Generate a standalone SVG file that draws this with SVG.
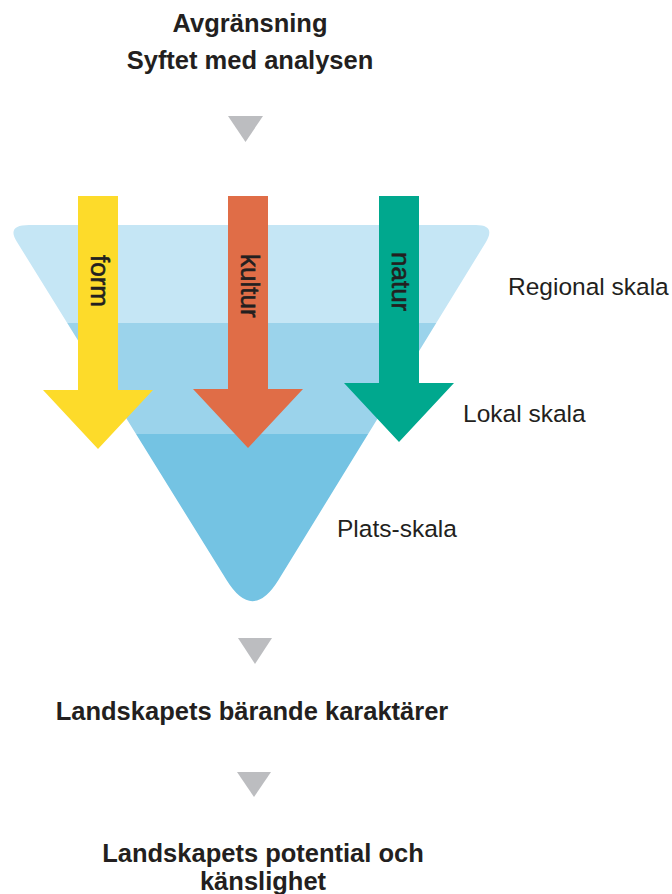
<svg xmlns="http://www.w3.org/2000/svg" width="672" height="894" viewBox="0 0 672 894">
<style>
.title{font-family:"Liberation Sans",Arial,sans-serif;font-weight:bold;font-size:25.5px;fill:#231f20;text-anchor:middle}
.scale{font-family:"Liberation Sans",Arial,sans-serif;font-size:24.5px;fill:#231f20}
.arrowtxt{font-family:"Liberation Sans",Arial,sans-serif;font-size:26px;fill:#231f20;stroke:#231f20;stroke-width:0.6px}
.step{fill:#bcbdc0}
</style>
<defs>
<clipPath id="funnelClip">
<path d="M29,225 L476,225 Q496,225 486,242 L278.3,580.3 Q252.5,622 226.7,580.3 L17,242 Q6,225 29,225 Z"/>
</clipPath>
</defs>
<rect width="672" height="894" fill="#ffffff"/>
<g id="title-top">
<text class="title" x="250" y="32">Avgränsning</text>
<text class="title" x="250" y="69">Syftet med analysen</text>
</g>
<g id="connectors">
<polygon class="step" points="228,116 263,116 245.5,142"/>
<polygon class="step" points="238,638 272,638 255,664"/>
<polygon class="step" points="237,772 271,772 254,797"/>
</g>
<g id="funnel">
<g clip-path="url(#funnelClip)">
<rect x="0" y="200" width="520" height="123" fill="#c5e6f5"/>
<rect x="0" y="323" width="520" height="111" fill="#9bd3eb"/>
<rect x="0" y="434" width="520" height="200" fill="#74c3e3"/>
</g>
</g>
<g id="arrow-form">
<polygon fill="#fddb2a" points="78,196 118,196 118,390 153,390 98,449 43,390 78,390"/>
<text class="arrowtxt" transform="translate(91,255) rotate(90)">form</text>
</g>
<g id="arrow-kultur">
<polygon fill="#e06d47" points="228,196 268,196 268,389 303,389 248,448 193,389 228,389"/>
<text class="arrowtxt" transform="translate(241,254) rotate(90)">kultur</text>
</g>
<g id="arrow-natur">
<polygon fill="#00a88e" points="379,196 419,196 419,383 454,383 399,442 344,383 379,383"/>
<text class="arrowtxt" transform="translate(392,252) rotate(90)">natur</text>
</g>
<g id="labels">
<text class="scale" x="508" y="295">Regional skala</text>
<text class="scale" x="463" y="422">Lokal skala</text>
<text class="scale" x="337" y="537">Plats-skala</text>
</g>
<g id="result-1">
<text class="title" x="252" y="720">Landskapets bärande karaktärer</text>
</g>
<g id="result-2">
<text class="title" x="263" y="862">Landskapets potential och</text>
<text class="title" x="263" y="890">känslighet</text>
</g>
</svg>
